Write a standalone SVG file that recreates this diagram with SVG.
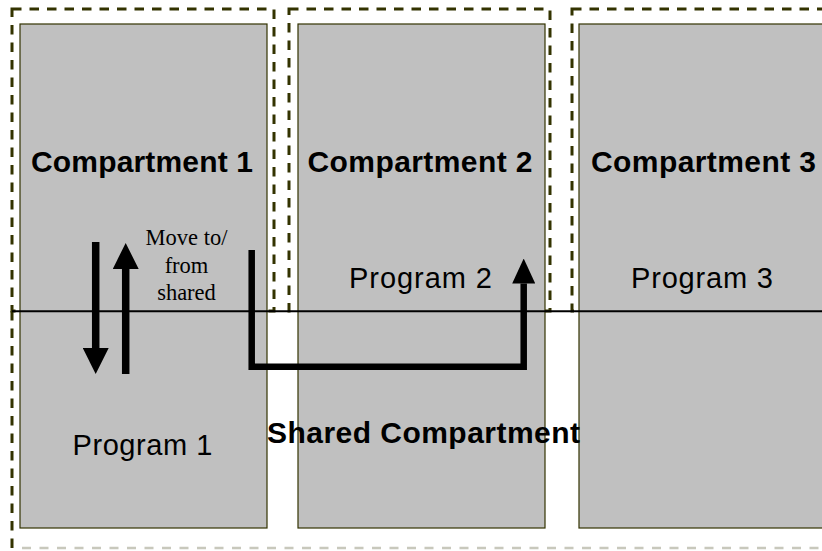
<svg xmlns="http://www.w3.org/2000/svg" width="822" height="551" viewBox="0 0 822 551">
  <style>
    .zone { fill: none; stroke: #333300; stroke-width: 3; stroke-dasharray: 9.5 8; }
    .zone-light { fill: none; stroke: #c8c8bc; stroke-width: 2.5; stroke-dasharray: 9 8.5; }
    .box { fill: #c0c0c0; stroke: #333300; stroke-width: 1.2; }
    .title { font-family: "Liberation Sans", Arial, sans-serif; font-weight: bold; font-size: 30px; fill: #000; text-anchor: middle; }
    .prog { font-family: "Liberation Sans", Arial, sans-serif; font-size: 29px; fill: #000; text-anchor: middle; }
    .note { font-family: "Liberation Serif", "Times New Roman", serif; font-size: 22.5px; fill: #000; text-anchor: middle; }
    .flow { fill: none; stroke: #000; stroke-linejoin: miter; }
  </style>
  <defs>
    <marker id="head-lg" markerUnits="userSpaceOnUse" viewBox="0 0 26 26" refX="0" refY="13" markerWidth="26" markerHeight="26" orient="auto">
      <path d="M0,0 L26,13 L0,26 Z" fill="#000"/>
    </marker>
    <marker id="head-sm" markerUnits="userSpaceOnUse" viewBox="0 0 25 23" refX="0" refY="11.5" markerWidth="25" markerHeight="23" orient="auto">
      <path d="M0,0 L25,11.5 L0,23 Z" fill="#000"/>
    </marker>
  </defs>

  <rect width="822" height="551" fill="#ffffff"/>

  <!-- shared compartment boundary (left side and bottom) -->
  <g id="shared-compartment">
    <path class="zone" d="M12,311 L12,548"/>
    <path class="zone-light" d="M22,548 L830,548"/>
  </g>

  <!-- compartment 1 -->
  <g id="compartment-1">
    <rect class="zone" x="12" y="9" width="262" height="302"/>
    <rect class="box" x="20" y="24" width="247" height="504"/>
    <text class="title" x="142" y="172" textLength="222">Compartment 1</text>
    <text class="prog" x="142.5" y="455" textLength="140">Program 1</text>
  </g>

  <!-- compartment 2 -->
  <g id="compartment-2">
    <rect class="zone" x="289" y="9" width="261" height="302"/>
    <rect class="box" x="298" y="24" width="247" height="504"/>
    <text class="title" x="420" y="172" textLength="225">Compartment 2</text>
    <text class="prog" x="420.5" y="288" textLength="143">Program 2</text>
  </g>

  <!-- compartment 3 -->
  <g id="compartment-3">
    <rect class="zone" x="572" y="9" width="270" height="302"/>
    <rect class="box" x="579" y="24" width="260" height="504"/>
    <text class="title" x="703.5" y="172" textLength="225">Compartment 3</text>
    <text class="prog" x="702" y="288" textLength="142">Program 3</text>
  </g>

  <!-- divider between private compartments and the shared one -->
  <line x1="12" y1="311.3" x2="822" y2="311.3" stroke="#000" stroke-width="2"/>

  <text class="title" x="267" y="443" textLength="313" style="text-anchor:start">Shared Compartment</text>

  <text class="note" x="186.5" y="245">Move to/</text>
  <text class="note" x="186.5" y="273">from</text>
  <text class="note" x="186.5" y="300">shared</text>

  <!-- data movement -->
  <g id="connectors">
    <line class="flow" x1="95.7" y1="242" x2="95.7" y2="348" stroke-width="7.5" marker-end="url(#head-lg)"/>
    <line class="flow" x1="125.7" y1="374" x2="125.7" y2="269" stroke-width="7.5" marker-end="url(#head-lg)"/>
    <path class="flow" d="M251.7,250 L251.7,366.7 L523.7,366.7 L523.7,283.5" stroke-width="6.5" marker-end="url(#head-sm)"/>
  </g>
</svg>
